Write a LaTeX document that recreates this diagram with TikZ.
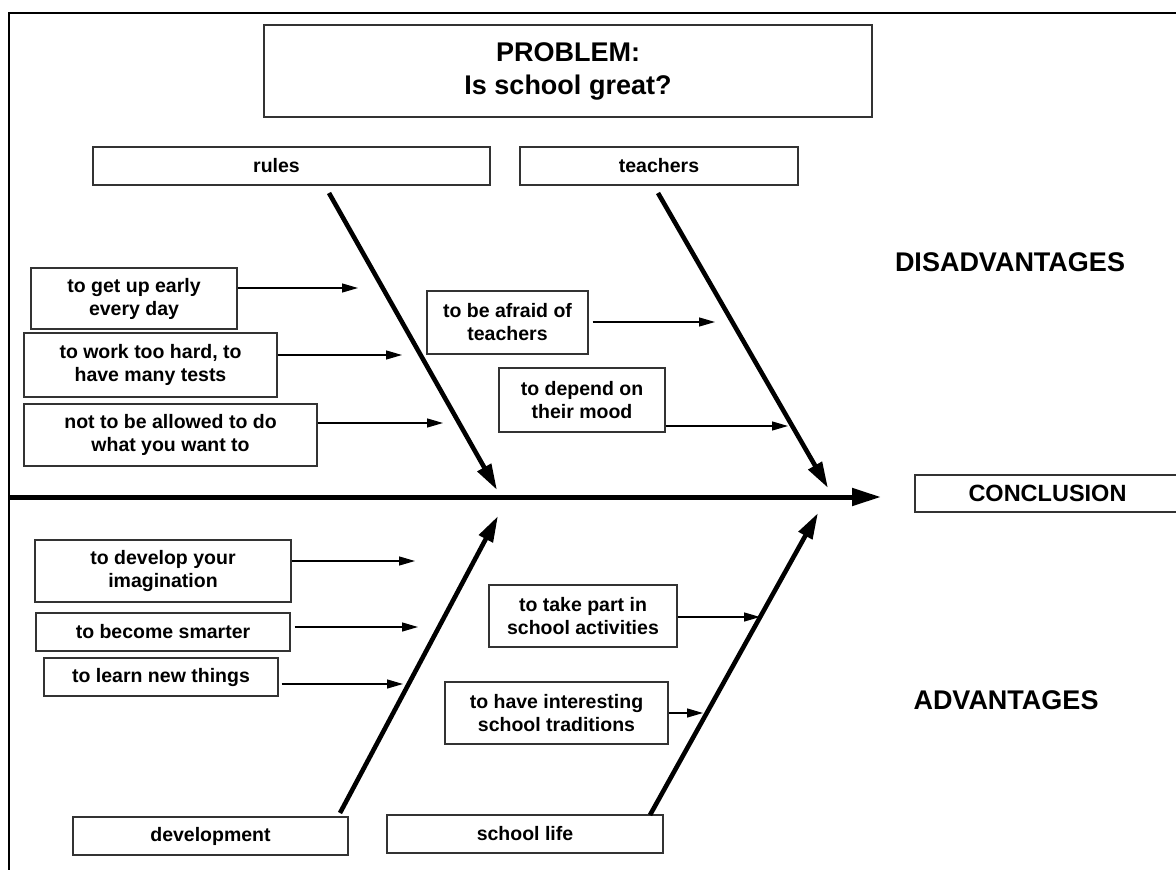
\documentclass[tikz,border=0pt]{standalone}
\usepackage{fontspec}
\setmainfont{Liberation Sans}
\usetikzlibrary{arrows.meta}
\begin{document}
\begin{tikzpicture}[x=1pt,y=-1pt,
  box/.style={draw=black!80, line width=1.3pt, align=center, inner sep=0pt,
    font=\fontsize{19.5}{23}\selectfont\bfseries},
  bone/.style={line width=4.6pt, -{Triangle[length=26pt,width=15pt]}},
  spine/.style={line width=5pt, -{Triangle[length=29pt,width=17pt]}},
  twig/.style={line width=1.3pt, -{Triangle[length=16pt,width=9pt]}},
  heading/.style={font=\fontsize{27}{33}\selectfont\bfseries, inner sep=0pt}]
\useasboundingbox (0,0) rectangle (1176,870);
% frame
\draw[line width=1.5pt] (1180,13) -- (9,13) -- (9,872);

% top boxes
\node[box, minimum width=608pt, minimum height=92pt,
      font=\fontsize{27}{33}\selectfont\bfseries] (prob) at (568,71) {PROBLEM:\\Is school great?};
\node[box, minimum width=397pt, minimum height=38pt] (rules) at (291.5,166) {rules\hspace{30pt}};
\node[box, minimum width=278pt, minimum height=38pt] (teach) at (659,166) {teachers};

% disadvantages causes
\node[box, minimum width=206pt, minimum height=61pt] (getup) at (134,298.5) {to get up early\\every day};
\node[box, minimum width=253pt, minimum height=64pt] (work) at (150.5,365) {to work too hard, to\\have many tests};
\node[box, minimum width=293pt, minimum height=62pt] (notall) at (170.5,435) {not to be allowed to do\\what you want to};
\node[box, minimum width=161pt, minimum height=63pt] (afraid) at (507.5,322.5) {to be afraid of\\teachers};
\node[box, minimum width=166pt, minimum height=64pt] (depend) at (582,400) {to depend on\\their mood};

% advantages causes
\node[box, minimum width=256pt, minimum height=62pt] (develop) at (163,571) {to develop your\\imagination};
\node[box, minimum width=254pt, minimum height=38pt] (smart) at (163,632) {to become smarter};
\node[box, minimum width=234pt, minimum height=38pt] (learn) at (161,677) {to learn new things};
\node[box, minimum width=188pt, minimum height=62pt] (part) at (583,616) {to take part in\\school activities};
\node[box, minimum width=223pt, minimum height=62pt] (trad) at (556.5,713) {to have interesting\\school traditions};

% bottom boxes
\node[box, minimum width=275pt, minimum height=38pt] (devel) at (210.5,836) {development};
\node[box, minimum width=276pt, minimum height=38pt] (slife) at (525,834) {school life};

% conclusion
\node[box, minimum width=265pt, minimum height=37pt,
      font=\fontsize{23.5}{28}\selectfont\bfseries] (concl) at (1047.5,493.5) {CONCLUSION};

% headings
\node[heading] (dis) at (1010,262) {DISADVANTAGES};
\node[heading] (adv) at (1006,700) {ADVANTAGES};

% spine
\coordinate (sp0) at (10,497);
\coordinate (sp1) at (881,497);
\draw[spine] (sp0) -- (sp1);

% bones
\coordinate (rs) at (329,193);  \coordinate (re) at (497,490);
\coordinate (ts) at (658,193);  \coordinate (te) at (828,488);
\coordinate (ds) at (340,813);  \coordinate (de) at (498,516);
\coordinate (ls) at (650,815);  \coordinate (le) at (818,513);
\draw[bone] (rs) -- (re);
\draw[bone] (ts) -- (te);
\draw[bone] (ds) -- (de);
\draw[bone] (ls) -- (le);

% twigs
\coordinate (t1) at (358,288);
\coordinate (t2) at (402,355);
\coordinate (t3) at (443,423);
\coordinate (t4) at (715,322);
\coordinate (t5) at (788,426);
\coordinate (t6) at (415,561);
\coordinate (t7) at (418,627);
\coordinate (t8) at (403,684);
\coordinate (t9) at (760,617);
\coordinate (t10) at (703,713);
\draw[twig] (getup.east |- t1) -- (t1);
\draw[twig] (work.east |- t2) -- (t2);
\draw[twig] (notall.east |- t3) -- (t3);
\draw[twig] ([xshift=4pt]afraid.east |- t4) -- (t4);
\draw[twig] (depend.east |- t5) -- (t5);
\draw[twig] (develop.east |- t6) -- (t6);
\draw[twig] ([xshift=4pt]smart.east |- t7) -- (t7);
\draw[twig] ([xshift=3pt]learn.east |- t8) -- (t8);
\draw[twig] (part.east |- t9) -- (t9);
\draw[twig] (trad.east |- t10) -- (t10);
\end{tikzpicture}
\end{document}
